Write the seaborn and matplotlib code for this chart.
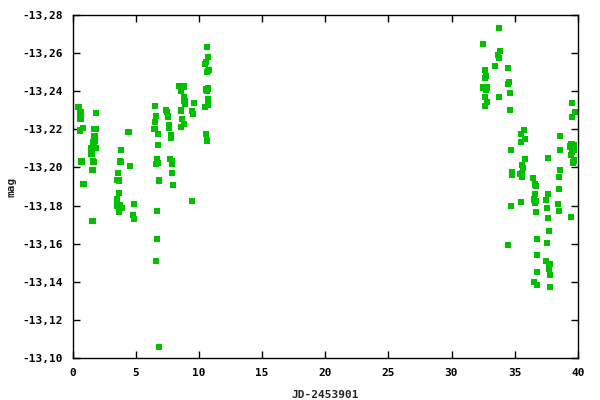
"""Light curve: mag vs JD-2453901, gnuplot-style scatter."""

import matplotlib
matplotlib.use("Agg")
import matplotlib.pyplot as plt
import matplotlib.ticker as mticker
import pandas as pd
import seaborn as sns

# ---- data ---------------------------------------------------------------
jd = [
    0.46, 0.60, 0.66, 0.58, 0.64, 0.58, 0.66, 0.58, 0.80, 0.64, 0.70, 0.86,
    1.45, 1.50, 1.65, 1.74, 1.80, 1.74, 1.86, 1.80, 1.82, 1.60, 1.65, 1.57, 1.57, 1.82,
    3.84, 3.78, 3.82, 3.57, 3.54, 3.70, 3.65, 3.52, 3.52, 3.72, 3.88, 3.65,
    4.42, 4.55, 4.89, 4.81, 4.89,
    6.55, 6.60, 6.52, 6.48, 6.79, 6.79, 6.71, 6.79, 6.60, 6.87, 6.71, 6.71, 6.63, 6.87,
    7.42, 7.50, 7.55, 7.66, 7.66, 7.77, 7.77, 7.71, 7.85, 7.85, 7.85, 7.93,
    8.47, 8.81, 8.60, 8.81, 8.86, 8.88, 8.60, 8.69, 8.58, 8.85,
    9.64, 9.48, 9.53, 9.48,
    10.62, 10.70, 10.50, 10.58, 10.70, 10.62, 10.58, 10.72, 10.66, 10.72, 10.50,
    10.72, 10.54, 10.62, 10.82,
    33.77, 32.50, 33.85, 33.70, 33.77, 33.45, 34.48, 32.66, 32.74, 32.66, 34.56,
    34.48, 32.50, 32.82, 32.74, 32.66, 33.77, 34.64, 32.82, 32.66, 34.64, 34.72,
    34.80, 34.80, 34.72, 34.48,
    35.74, 35.51, 35.82, 35.51, 35.82, 35.58, 35.66, 35.43, 35.58, 35.58, 35.51,
    36.46, 36.62, 36.70, 36.62, 36.54, 36.60, 36.67, 36.60, 36.70, 36.75, 36.80,
    36.77, 36.77, 36.53, 36.77,
    37.64, 37.64, 37.48, 37.57, 37.64, 37.72, 37.56, 37.48, 37.80, 37.72, 37.72,
    37.80, 37.80,
    38.60, 38.60, 38.60, 38.52, 38.52, 38.44, 38.52,
    39.54, 39.75, 39.54, 39.50, 39.67, 39.43, 39.67, 39.54, 39.46, 39.70, 39.62, 39.46,
]
mag = [
    -13.2316, -13.2290, -13.2290, -13.2273, -13.2273, -13.2255, -13.2255, -13.2194,
    -13.2208, -13.2031, -13.2031, -13.1914,
    -13.2100, -13.2073, -13.2132, -13.2203, -13.2203, -13.2162, -13.2285, -13.2139,
    -13.2100, -13.2032, -13.2028, -13.1987, -13.1720, -13.2200,
    -13.2092, -13.2031, -13.2027, -13.1970, -13.1936, -13.1932, -13.1867, -13.1835,
    -13.1800, -13.1800, -13.1788, -13.1765,
    -13.2185, -13.2006, -13.1809, -13.1751, -13.1730,
    -13.2321, -13.2269, -13.2237, -13.2203, -13.2176, -13.2119, -13.2045, -13.2024,
    -13.2018, -13.1931, -13.1772, -13.1625, -13.1510, -13.1058,
    -13.2303, -13.2290, -13.2267, -13.2220, -13.2206, -13.2172, -13.2155, -13.2045,
    -13.2031, -13.2021, -13.1972, -13.1909,
    -13.2427, -13.2425, -13.2404, -13.2371, -13.2350, -13.2336, -13.2299, -13.2255,
    -13.2211, -13.2229,
    -13.2339, -13.2296, -13.2280, -13.1825,
    -13.2631, -13.2578, -13.2543, -13.2552, -13.2507, -13.2502, -13.2409, -13.2414,
    -13.2400, -13.2360, -13.2318, -13.2327, -13.2176, -13.2141, -13.2510,
    -13.2733, -13.2649, -13.2612, -13.2590, -13.2575, -13.2533, -13.2523, -13.2512,
    -13.2481, -13.2470, -13.2447, -13.2437, -13.2419, -13.2419, -13.2409, -13.2371,
    -13.2371, -13.2392, -13.2345, -13.2323, -13.2302, -13.2092, -13.1975, -13.1961,
    -13.1798, -13.1594,
    -13.2197, -13.2176, -13.2150, -13.2134, -13.2045, -13.2013, -13.1997, -13.1965,
    -13.1970, -13.1948, -13.1819,
    -13.1945, -13.1910, -13.1903, -13.1861, -13.1832, -13.1825, -13.1825, -13.1814,
    -13.1767, -13.1625, -13.1625, -13.1541, -13.1452, -13.1400, -13.1384,
    -13.2050, -13.1861, -13.1830, -13.1788, -13.1735, -13.1667, -13.1604, -13.1510,
    -13.1494, -13.1484, -13.1468, -13.1436, -13.1373,
    -13.2166, -13.2092, -13.1987, -13.1951, -13.1888, -13.1809, -13.1772,
    -13.2339, -13.2292, -13.2266, -13.2120, -13.2115, -13.2110, -13.2090, -13.2083,
    -13.2066, -13.2036, -13.2026, -13.1741,
]
x_ticks = [0, 5, 10, 15, 20, 25, 30, 35, 40]
y_ticks = [-13.28, -13.26, -13.24, -13.22, -13.20, -13.18, -13.16, -13.14, -13.12, -13.10]

GREEN = "#00c000"

sns.set_style("ticks")
plt.rcParams["font.family"] = ["DejaVu Sans Mono"]
plt.rcParams.update({"font.size": 8, "font.weight": "bold"})

df = pd.DataFrame({"jd": jd, "mag": mag})

fig = plt.figure(figsize=(6, 4), dpi=100)
ax = fig.add_axes([0.121, 0.105, 0.842, 0.8575])
sns.scatterplot(data=df, x="jd", y="mag", ax=ax, marker="s", s=20,
                color=GREEN, edgecolor="none", linewidth=0, legend=False)

ax.set_xlim(0, 40)
ax.set_ylim(-13.10, -13.28)  # magnitudes: brighter on top
ax.set_xticks(x_ticks)
ax.set_yticks(y_ticks)
ax.yaxis.set_major_formatter(
    mticker.FuncFormatter(lambda v, _: f"{v:.2f}".replace(".", ",")))
ax.tick_params(direction="in", length=5, width=1, top=True, right=True,
               labelsize=8, colors="black", pad=7)
for s in ax.spines.values():
    s.set_linewidth(1)
    s.set_color("black")
    s.set_visible(True)

ax.set_xlabel("JD-2453901", fontsize=8, fontweight="bold")
ax.set_ylabel("mag", fontsize=8, fontweight="bold")
ax.xaxis.set_label_coords(0.5, -0.093)
ax.yaxis.set_label_coords(-0.112, 0.5)

fig.savefig("out.png", dpi=100, facecolor="white")
